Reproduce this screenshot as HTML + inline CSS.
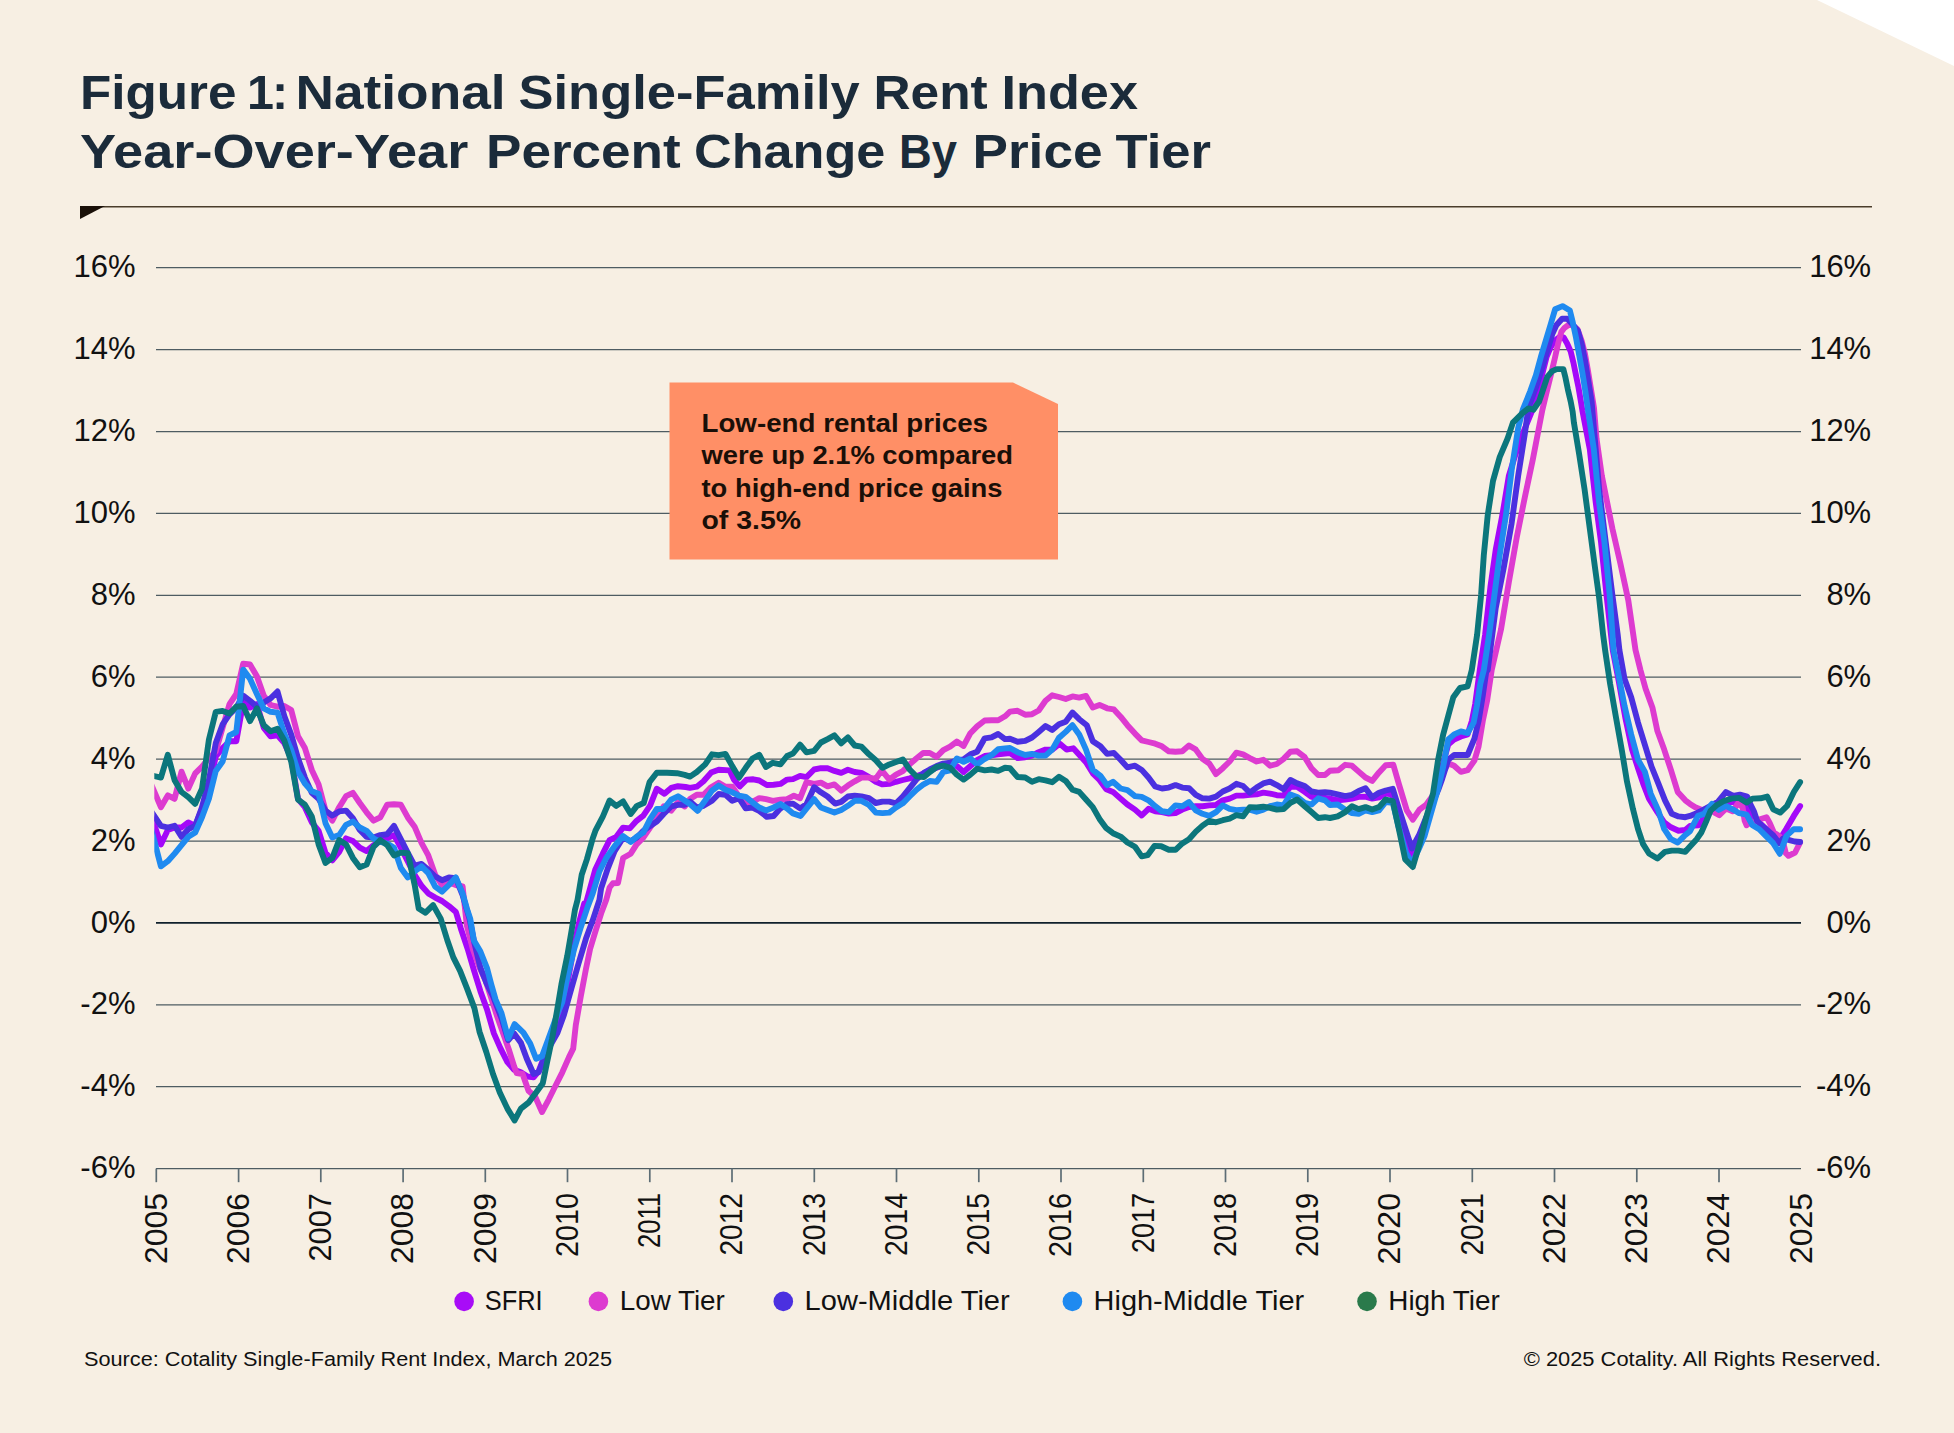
<!DOCTYPE html>
<html><head><meta charset="utf-8"><title>Figure 1</title>
<style>
html,body{margin:0;padding:0;background:#f7efe3;}
body{width:1954px;height:1433px;overflow:hidden;position:relative;font-family:"Liberation Sans",sans-serif;}
svg{position:absolute;left:0;top:0;}
text{font-family:"Liberation Sans",sans-serif;}
.t{font-weight:bold;font-size:48.5px;fill:#1b2b3a;}
.ax{font-size:31px;fill:#111;}
.lg{font-size:27px;fill:#111;}
.yr{font-size:31.4px;fill:#111;}
.ft{font-size:20.5px;fill:#111;}
.cb{font-weight:bold;font-size:26.3px;fill:#1a0f08;}
.ln{fill:none;stroke-width:5.9;stroke-linejoin:round;stroke-linecap:round;}
</style></head><body>
<svg width="1954" height="1433" viewBox="0 0 1954 1433">
<rect x="0" y="0" width="1954" height="1433" fill="#f7efe3"/>
<polygon points="1817,0 1954,0 1954,66" fill="#ffffff"/>
<text class="t" x="80" y="109" textLength="156.4" lengthAdjust="spacingAndGlyphs">Figure</text>
<text class="t" y="109"><tspan x="247">1</tspan><tspan x="272">:</tspan></text>
<text class="t" x="295.5" y="109" textLength="210.1" lengthAdjust="spacingAndGlyphs">National</text>
<text class="t" x="518.5" y="109" textLength="341.3" lengthAdjust="spacingAndGlyphs">Single-Family</text>
<text class="t" x="873.5" y="109" textLength="114.2" lengthAdjust="spacingAndGlyphs">Rent</text>
<text class="t" x="1001.5" y="109" textLength="136.5" lengthAdjust="spacingAndGlyphs">Index</text>
<text class="t" x="80" y="168" textLength="388.3" lengthAdjust="spacingAndGlyphs">Year-Over-Year</text>
<text class="t" x="486" y="168" textLength="194.7" lengthAdjust="spacingAndGlyphs">Percent</text>
<text class="t" x="694" y="168" textLength="191.4" lengthAdjust="spacingAndGlyphs">Change</text>
<text class="t" x="899" y="168" textLength="58.0" lengthAdjust="spacingAndGlyphs">By</text>
<text class="t" x="972.5" y="168" textLength="130.0" lengthAdjust="spacingAndGlyphs">Price</text>
<text class="t" x="1115.5" y="168" textLength="95.5" lengthAdjust="spacingAndGlyphs">Tier</text>
<line x1="80" y1="206.7" x2="1872" y2="206.7" stroke="#4a3d2b" stroke-width="1.5"/>
<polygon points="80,206 105,206 80,219" fill="#1a1008"/>

<line x1="156" y1="267.7" x2="1801" y2="267.7" stroke="#4e5c62" stroke-width="1.25"/>
<text class="ax" x="135.5" y="277.3" text-anchor="end">16%</text>
<text class="ax" x="1871.2" y="277.3" text-anchor="end">16%</text>
<line x1="156" y1="349.6" x2="1801" y2="349.6" stroke="#4e5c62" stroke-width="1.25"/>
<text class="ax" x="135.5" y="359.2" text-anchor="end">14%</text>
<text class="ax" x="1871.2" y="359.2" text-anchor="end">14%</text>
<line x1="156" y1="431.5" x2="1801" y2="431.5" stroke="#4e5c62" stroke-width="1.25"/>
<text class="ax" x="135.5" y="441.1" text-anchor="end">12%</text>
<text class="ax" x="1871.2" y="441.1" text-anchor="end">12%</text>
<line x1="156" y1="513.4" x2="1801" y2="513.4" stroke="#4e5c62" stroke-width="1.25"/>
<text class="ax" x="135.5" y="523.0" text-anchor="end">10%</text>
<text class="ax" x="1871.2" y="523.0" text-anchor="end">10%</text>
<line x1="156" y1="595.3" x2="1801" y2="595.3" stroke="#4e5c62" stroke-width="1.25"/>
<text class="ax" x="135.5" y="604.9" text-anchor="end">8%</text>
<text class="ax" x="1871.2" y="604.9" text-anchor="end">8%</text>
<line x1="156" y1="677.2" x2="1801" y2="677.2" stroke="#4e5c62" stroke-width="1.25"/>
<text class="ax" x="135.5" y="686.8" text-anchor="end">6%</text>
<text class="ax" x="1871.2" y="686.8" text-anchor="end">6%</text>
<line x1="156" y1="759.1" x2="1801" y2="759.1" stroke="#4e5c62" stroke-width="1.25"/>
<text class="ax" x="135.5" y="768.7" text-anchor="end">4%</text>
<text class="ax" x="1871.2" y="768.7" text-anchor="end">4%</text>
<line x1="156" y1="841.0" x2="1801" y2="841.0" stroke="#4e5c62" stroke-width="1.25"/>
<text class="ax" x="135.5" y="850.6" text-anchor="end">2%</text>
<text class="ax" x="1871.2" y="850.6" text-anchor="end">2%</text>
<line x1="156" y1="922.9" x2="1801" y2="922.9" stroke="#10202c" stroke-width="1.8"/>
<text class="ax" x="135.5" y="932.5" text-anchor="end">0%</text>
<text class="ax" x="1871.2" y="932.5" text-anchor="end">0%</text>
<line x1="156" y1="1004.8" x2="1801" y2="1004.8" stroke="#4e5c62" stroke-width="1.25"/>
<text class="ax" x="135.5" y="1014.4" text-anchor="end">-2%</text>
<text class="ax" x="1871.2" y="1014.4" text-anchor="end">-2%</text>
<line x1="156" y1="1086.7" x2="1801" y2="1086.7" stroke="#4e5c62" stroke-width="1.25"/>
<text class="ax" x="135.5" y="1096.3" text-anchor="end">-4%</text>
<text class="ax" x="1871.2" y="1096.3" text-anchor="end">-4%</text>
<line x1="156" y1="1168.6" x2="1801" y2="1168.6" stroke="#4e5c62" stroke-width="1.25"/>
<text class="ax" x="135.5" y="1178.2" text-anchor="end">-6%</text>
<text class="ax" x="1871.2" y="1178.2" text-anchor="end">-6%</text>
<line x1="156.3" y1="1168.6" x2="156.3" y2="1182.2" stroke="#5d6d75" stroke-width="1.7"/>
<text class="yr" transform="translate(166.5,1193) rotate(-90)" text-anchor="end" textLength="71" lengthAdjust="spacingAndGlyphs">2005</text>
<line x1="238.6" y1="1168.6" x2="238.6" y2="1182.2" stroke="#5d6d75" stroke-width="1.7"/>
<text class="yr" transform="translate(248.8,1193) rotate(-90)" text-anchor="end" textLength="71" lengthAdjust="spacingAndGlyphs">2006</text>
<line x1="320.8" y1="1168.6" x2="320.8" y2="1182.2" stroke="#5d6d75" stroke-width="1.7"/>
<text class="yr" transform="translate(331.0,1193) rotate(-90)" text-anchor="end" textLength="68.5" lengthAdjust="spacingAndGlyphs">2007</text>
<line x1="403.1" y1="1168.6" x2="403.1" y2="1182.2" stroke="#5d6d75" stroke-width="1.7"/>
<text class="yr" transform="translate(413.2,1193) rotate(-90)" text-anchor="end" textLength="71" lengthAdjust="spacingAndGlyphs">2008</text>
<line x1="485.3" y1="1168.6" x2="485.3" y2="1182.2" stroke="#5d6d75" stroke-width="1.7"/>
<text class="yr" transform="translate(495.5,1193) rotate(-90)" text-anchor="end" textLength="71" lengthAdjust="spacingAndGlyphs">2009</text>
<line x1="567.5" y1="1168.6" x2="567.5" y2="1182.2" stroke="#5d6d75" stroke-width="1.7"/>
<text class="yr" transform="translate(577.8,1193) rotate(-90)" text-anchor="end" textLength="64" lengthAdjust="spacingAndGlyphs">2010</text>
<line x1="649.8" y1="1168.6" x2="649.8" y2="1182.2" stroke="#5d6d75" stroke-width="1.7"/>
<text class="yr" transform="translate(660.0,1193) rotate(-90)" text-anchor="end" textLength="55" lengthAdjust="spacingAndGlyphs">2011</text>
<line x1="732.0" y1="1168.6" x2="732.0" y2="1182.2" stroke="#5d6d75" stroke-width="1.7"/>
<text class="yr" transform="translate(742.2,1193) rotate(-90)" text-anchor="end" textLength="62.5" lengthAdjust="spacingAndGlyphs">2012</text>
<line x1="814.3" y1="1168.6" x2="814.3" y2="1182.2" stroke="#5d6d75" stroke-width="1.7"/>
<text class="yr" transform="translate(824.5,1193) rotate(-90)" text-anchor="end" textLength="63" lengthAdjust="spacingAndGlyphs">2013</text>
<line x1="896.5" y1="1168.6" x2="896.5" y2="1182.2" stroke="#5d6d75" stroke-width="1.7"/>
<text class="yr" transform="translate(906.8,1193) rotate(-90)" text-anchor="end" textLength="63" lengthAdjust="spacingAndGlyphs">2014</text>
<line x1="978.8" y1="1168.6" x2="978.8" y2="1182.2" stroke="#5d6d75" stroke-width="1.7"/>
<text class="yr" transform="translate(989.0,1193) rotate(-90)" text-anchor="end" textLength="62.5" lengthAdjust="spacingAndGlyphs">2015</text>
<line x1="1061.0" y1="1168.6" x2="1061.0" y2="1182.2" stroke="#5d6d75" stroke-width="1.7"/>
<text class="yr" transform="translate(1071.2,1193) rotate(-90)" text-anchor="end" textLength="64" lengthAdjust="spacingAndGlyphs">2016</text>
<line x1="1143.3" y1="1168.6" x2="1143.3" y2="1182.2" stroke="#5d6d75" stroke-width="1.7"/>
<text class="yr" transform="translate(1153.5,1193) rotate(-90)" text-anchor="end" textLength="60" lengthAdjust="spacingAndGlyphs">2017</text>
<line x1="1225.5" y1="1168.6" x2="1225.5" y2="1182.2" stroke="#5d6d75" stroke-width="1.7"/>
<text class="yr" transform="translate(1235.8,1193) rotate(-90)" text-anchor="end" textLength="64" lengthAdjust="spacingAndGlyphs">2018</text>
<line x1="1307.8" y1="1168.6" x2="1307.8" y2="1182.2" stroke="#5d6d75" stroke-width="1.7"/>
<text class="yr" transform="translate(1318.0,1193) rotate(-90)" text-anchor="end" textLength="64" lengthAdjust="spacingAndGlyphs">2019</text>
<line x1="1390.0" y1="1168.6" x2="1390.0" y2="1182.2" stroke="#5d6d75" stroke-width="1.7"/>
<text class="yr" transform="translate(1400.2,1193) rotate(-90)" text-anchor="end" textLength="71.5" lengthAdjust="spacingAndGlyphs">2020</text>
<line x1="1472.3" y1="1168.6" x2="1472.3" y2="1182.2" stroke="#5d6d75" stroke-width="1.7"/>
<text class="yr" transform="translate(1482.5,1193) rotate(-90)" text-anchor="end" textLength="62.5" lengthAdjust="spacingAndGlyphs">2021</text>
<line x1="1554.5" y1="1168.6" x2="1554.5" y2="1182.2" stroke="#5d6d75" stroke-width="1.7"/>
<text class="yr" transform="translate(1564.8,1193) rotate(-90)" text-anchor="end" textLength="71" lengthAdjust="spacingAndGlyphs">2022</text>
<line x1="1636.8" y1="1168.6" x2="1636.8" y2="1182.2" stroke="#5d6d75" stroke-width="1.7"/>
<text class="yr" transform="translate(1647.0,1193) rotate(-90)" text-anchor="end" textLength="71" lengthAdjust="spacingAndGlyphs">2023</text>
<line x1="1719.0" y1="1168.6" x2="1719.0" y2="1182.2" stroke="#5d6d75" stroke-width="1.7"/>
<text class="yr" transform="translate(1729.2,1193) rotate(-90)" text-anchor="end" textLength="71" lengthAdjust="spacingAndGlyphs">2024</text>
<text class="yr" transform="translate(1811.5,1193) rotate(-90)" text-anchor="end" textLength="71" lengthAdjust="spacingAndGlyphs">2025</text>
<clipPath id="cp"><rect x="154.3" y="250" width="1670" height="930"/></clipPath><g clip-path="url(#cp)">
<polyline class="ln" stroke="#a408f9" points="150.1,812.3 154.1,824.1 160.9,844.4 167.8,830.0 174.6,827.5 181.5,827.5 188.3,822.4 195.2,825.8 202.0,808.9 208.9,786.9 215.8,756.5 222.6,748.1 229.5,741.3 236.3,741.3 243.2,702.5 250.0,707.6 256.9,704.2 263.8,727.8 270.6,736.3 277.5,735.4 284.3,743.0 291.2,758.2 298.0,798.8 304.9,807.2 311.8,822.4 318.6,830.8 325.5,852.8 332.3,860.4 339.2,852.0 346.0,838.4 352.9,841.0 359.8,847.7 366.6,851.1 373.5,845.2 380.3,841.0 387.2,838.4 394.0,835.2 400.9,847.8 407.8,861.3 414.6,874.8 421.5,885.8 428.3,893.4 435.2,897.6 442.0,901.0 448.9,906.1 455.9,912.0 460.9,928.7 467.7,949.0 473.6,969.2 480.4,991.2 487.1,1009.8 493.9,1033.4 500.6,1048.6 507.4,1062.1 514.1,1069.7 520.9,1072.3 527.6,1076.5 533.6,1077.3 538.6,1071.4 542.8,1060.4 548.8,1043.6 554.7,1026.7 559.7,1013.2 564.0,1002.0 569.9,969.4 574.1,945.8 579.2,922.1 584.2,903.5 585.9,903.6 591.0,885.0 595.2,869.8 602.8,853.7 609.6,840.2 616.3,836.8 623.1,827.6 629.8,828.4 636.6,820.8 643.3,815.7 650.1,805.6 656.8,788.7 664.4,793.8 671.2,787.9 678.0,786.2 685.6,787.0 690.0,787.8 696.8,786.7 703.5,781.3 711.1,772.6 718.7,769.8 729.7,770.4 733.9,779.6 739.8,786.4 746.6,779.6 753.3,779.3 759.2,780.5 766.8,785.0 773.6,784.7 780.4,783.9 787.1,779.6 793.0,779.1 800.1,775.9 806.5,777.1 814.1,769.5 820.9,768.2 827.6,768.3 834.4,770.9 841.2,772.9 847.9,769.8 854.7,772.0 861.4,772.9 869.0,777.1 875.8,781.8 882.5,784.4 889.3,783.9 896.0,781.8 902.8,780.0 909.6,778.3 916.3,776.3 923.1,773.7 929.8,770.4 936.6,767.8 943.3,765.3 950.1,764.4 956.8,766.1 963.6,772.0 970.4,766.1 977.1,760.2 984.7,756.0 991.5,755.2 998.2,754.3 1005.0,753.5 1010.0,753.0 1017.6,758.1 1025.2,757.2 1032.0,755.6 1038.7,752.2 1045.5,749.6 1052.2,749.6 1059.8,743.7 1066.6,749.6 1073.3,748.3 1079.2,754.7 1086.0,762.3 1092.8,773.3 1099.5,780.0 1106.3,789.3 1113.0,791.9 1120.6,798.6 1127.4,804.5 1135.0,809.6 1141.7,815.5 1148.5,808.8 1155.2,811.3 1162.0,812.1 1168.8,813.5 1175.5,813.0 1182.3,809.6 1189.0,807.1 1195.8,806.2 1202.5,806.2 1209.3,805.4 1216.0,805.0 1222.8,800.3 1229.6,798.6 1236.3,795.6 1243.1,795.6 1249.8,794.9 1256.6,794.4 1263.3,792.7 1270.1,793.6 1276.8,795.2 1283.6,795.6 1290.4,786.8 1297.1,786.8 1304.7,791.9 1311.5,796.9 1318.2,797.8 1325.0,797.8 1330.0,798.6 1337.6,800.3 1345.2,799.5 1352.0,798.6 1358.7,796.9 1365.5,796.6 1372.2,798.6 1379.0,797.3 1385.7,793.6 1391.6,794.4 1399.2,818.9 1406.0,840.8 1411.6,855.2 1418.7,840.8 1425.4,822.3 1432.2,802.0 1438.9,780.0 1444.0,759.8 1448.2,744.6 1454.1,739.5 1460.9,736.5 1467.6,734.4 1471.9,720.9 1475.2,704.0 1479.8,670.0 1485.1,634.7 1490.4,587.0 1495.7,549.9 1502.3,515.4 1508.9,475.6 1519.6,441.2 1532.6,409.7 1537.5,393.3 1542.4,373.6 1546.5,357.2 1550.6,347.4 1554.7,340.9 1560.4,336.4 1563.7,337.6 1567.0,343.3 1570.7,351.5 1573.5,363.0 1576.0,375.3 1578.5,387.5 1580.9,401.5 1582.5,411.3 1589.8,449.1 1595.7,502.1 1601.0,541.9 1606.5,595.0 1612.7,650.0 1618.6,680.4 1625.3,717.6 1632.1,749.6 1638.0,768.2 1643.1,783.4 1649.0,798.6 1657.4,812.1 1664.2,822.3 1670.9,827.3 1678.5,830.7 1685.3,829.9 1690.0,825.9 1698.6,825.2 1703.3,818.6 1710.0,810.6 1717.9,805.9 1725.9,802.6 1733.2,801.9 1739.9,803.3 1747.2,807.9 1753.2,816.6 1759.9,823.2 1766.5,829.2 1773.2,835.9 1779.8,839.2 1786.5,828.5 1793.8,815.9 1800.1,806.1"/>
<polyline class="ln" stroke="#dd3bd0" points="150.1,781.8 154.1,791.2 160.9,807.2 167.8,795.4 174.6,798.8 181.5,771.7 188.3,788.6 195.2,773.4 202.0,766.7 208.9,758.2 215.8,751.5 222.6,727.8 229.5,704.2 236.3,694.0 243.2,663.6 250.0,664.5 256.9,676.3 263.8,695.7 270.6,705.0 277.5,706.7 284.3,705.9 291.2,710.1 298.0,736.3 304.9,748.1 311.8,770.0 318.6,784.4 325.5,810.6 332.3,820.7 339.2,807.2 346.0,796.2 352.9,792.8 359.8,803.0 366.6,812.3 373.5,820.7 380.3,817.3 387.2,804.7 394.0,804.2 400.9,804.8 407.8,817.4 414.6,826.7 421.5,842.8 428.3,855.4 435.2,874.8 442.0,885.0 448.9,882.4 455.8,885.0 462.6,886.3 466.8,925.3 472.8,949.0 479.5,967.6 485.4,980.1 491.3,998.0 497.2,1016.5 503.2,1033.4 509.1,1050.3 514.1,1066.4 516.7,1073.1 522.6,1074.0 528.5,1090.8 535.2,1096.8 542.0,1112.0 548.8,1099.3 555.5,1085.8 562.3,1072.3 569.0,1057.1 573.2,1048.6 575.8,1025.0 580.8,996.3 585.9,969.2 590.1,949.0 595.2,932.1 601.1,913.5 606.2,900.0 609.6,887.5 612.9,883.3 618.0,883.0 623.1,858.0 630.7,853.7 636.6,844.4 643.3,837.7 650.1,827.6 656.8,818.3 663.6,806.4 671.2,810.7 678.0,802.2 684.7,806.4 690.0,799.1 696.8,794.8 703.5,794.8 711.1,787.2 718.7,782.7 725.5,786.7 732.2,786.7 739.0,796.5 745.7,803.3 754.2,800.8 759.2,798.2 766.0,799.1 772.8,800.8 780.4,799.6 787.1,799.1 793.9,795.7 800.1,798.2 806.5,782.2 814.1,783.9 820.9,782.7 827.6,786.4 834.4,784.4 841.2,790.6 847.9,785.6 854.7,781.3 861.4,777.6 869.0,777.6 875.8,778.8 881.7,770.4 889.3,779.6 896.0,774.6 902.8,771.2 909.6,764.4 916.3,758.5 923.1,753.0 929.8,753.0 936.6,756.8 943.3,750.1 950.1,746.7 956.8,741.6 963.6,745.9 970.4,733.2 977.1,726.4 984.7,720.5 991.5,720.2 998.2,720.2 1005.0,716.3 1010.0,711.6 1017.6,710.8 1025.2,714.7 1032.0,714.2 1038.7,710.5 1045.5,700.7 1052.2,695.3 1059.0,697.0 1065.7,699.0 1072.5,696.4 1079.2,697.6 1086.0,695.9 1092.8,707.4 1099.5,704.9 1107.1,708.3 1113.9,709.4 1120.6,716.7 1127.4,725.2 1135.0,733.6 1141.7,740.4 1148.5,742.0 1155.2,743.7 1162.0,746.3 1168.8,751.3 1175.5,751.7 1182.3,751.3 1189.0,745.4 1195.8,749.6 1202.5,758.9 1209.3,763.5 1216.0,774.1 1222.8,768.2 1229.6,761.5 1236.3,752.7 1243.1,754.4 1249.8,758.1 1256.6,761.5 1263.3,759.8 1270.1,765.7 1276.8,764.0 1283.6,758.9 1290.4,751.8 1297.1,751.3 1304.7,757.2 1311.5,768.2 1318.2,775.0 1325.0,775.0 1330.0,770.8 1338.4,770.2 1345.2,764.8 1352.0,765.7 1358.7,771.6 1365.5,777.5 1372.2,780.9 1379.0,772.4 1385.7,765.2 1393.3,764.8 1399.2,785.1 1406.8,810.4 1412.8,819.7 1419.5,809.6 1426.3,804.5 1433.0,795.2 1441.5,775.0 1448.2,763.2 1454.1,765.7 1460.9,771.9 1467.6,770.2 1474.4,760.6 1478.6,746.3 1482.8,720.9 1487.1,700.7 1491.7,670.0 1501.0,629.4 1508.9,581.7 1516.9,536.6 1524.9,496.8 1532.8,459.7 1539.4,425.2 1542.4,409.7 1547.3,389.2 1551.4,372.8 1554.7,358.9 1558.0,344.1 1561.3,331.9 1564.5,327.8 1569.1,324.5 1572.7,325.3 1577.6,329.4 1581.7,340.9 1585.0,354.0 1587.9,370.3 1590.7,387.5 1594.0,408.0 1596.5,438.5 1601.8,475.6 1607.1,502.1 1612.4,528.7 1620.3,563.1 1628.3,600.3 1635.5,650.0 1640.5,670.3 1645.6,688.8 1652.4,707.4 1657.4,731.1 1664.2,749.6 1670.9,769.9 1677.7,791.9 1685.3,800.3 1690.0,803.9 1695.3,807.3 1702.0,809.9 1710.0,809.3 1714.6,812.6 1719.3,815.2 1725.9,808.6 1732.6,811.3 1737.9,803.3 1742.6,807.3 1744.6,820.6 1746.6,825.2 1749.9,822.6 1754.5,821.2 1759.9,819.2 1766.5,817.2 1769.8,823.2 1773.8,832.5 1779.2,835.9 1783.1,841.9 1785.8,853.2 1788.5,855.8 1795.1,852.5 1799.1,844.5 1800.1,842.3"/>
<polyline class="ln" stroke="#4b30e0" points="150.1,809.7 154.1,815.6 160.9,825.8 167.8,827.5 174.6,825.8 181.5,836.8 188.3,829.2 195.2,825.8 202.0,807.2 208.9,780.2 215.8,743.0 222.6,724.4 229.5,714.3 236.3,707.6 243.2,695.7 250.0,700.8 256.9,706.7 263.8,702.5 270.6,698.3 277.5,691.5 284.3,716.0 291.2,734.6 298.0,758.2 304.9,777.6 311.8,792.8 318.6,798.8 325.5,810.6 332.3,815.6 339.2,811.4 346.0,810.6 352.9,818.2 359.8,830.0 366.6,836.8 373.5,837.6 380.3,835.1 387.2,834.2 394.0,825.9 400.9,839.4 407.8,852.9 414.6,865.6 421.5,863.9 428.3,869.8 435.2,876.5 442.0,880.2 448.9,877.4 455.8,878.2 462.6,895.1 469.5,918.6 474.4,943.1 480.4,967.6 486.3,982.8 493.0,996.3 501.5,1018.2 508.2,1040.2 514.1,1033.4 520.9,1042.7 526.8,1058.8 533.6,1074.0 538.6,1072.3 542.8,1062.1 550.4,1045.2 557.2,1033.4 564.0,1014.8 571.6,987.8 578.3,964.2 585.9,938.8 592.7,920.3 599.4,900.0 601.1,888.4 607.9,868.1 614.6,851.2 623.1,837.7 630.7,841.1 636.6,837.7 643.3,830.9 650.1,825.9 656.8,821.6 663.6,814.0 671.2,806.4 678.0,804.8 684.7,804.8 690.0,801.6 696.8,807.5 703.5,805.8 712.0,800.8 718.7,794.0 725.5,794.8 732.2,800.8 739.0,798.2 745.7,808.4 752.5,807.5 759.2,810.9 766.8,816.8 773.6,816.0 780.4,808.4 787.1,804.1 793.0,803.6 800.1,808.4 806.5,804.1 814.1,787.2 820.9,792.3 827.6,796.5 835.2,803.6 841.2,801.9 847.9,796.5 854.7,795.7 861.4,796.5 869.0,798.2 875.8,803.0 882.5,801.6 889.3,801.6 896.0,803.3 902.8,796.5 909.6,788.1 916.3,779.6 923.9,772.9 929.8,769.5 936.6,766.1 943.3,763.6 950.1,762.8 956.8,760.2 963.6,759.4 970.4,754.3 977.1,751.8 984.7,738.3 991.5,737.4 998.2,734.0 1005.0,739.1 1010.0,738.7 1017.6,741.7 1025.2,740.9 1032.0,737.5 1038.7,731.9 1045.5,726.0 1052.2,729.9 1059.0,724.3 1065.7,721.8 1072.5,712.5 1079.2,719.2 1086.8,725.2 1092.8,741.2 1100.4,746.3 1107.1,753.9 1113.9,753.0 1120.6,759.8 1127.4,767.4 1135.0,765.7 1141.7,769.9 1148.5,777.5 1155.2,786.5 1162.0,788.5 1168.8,787.6 1175.5,785.1 1182.3,787.6 1189.0,788.2 1195.8,794.9 1202.5,798.3 1209.3,798.6 1216.0,796.6 1222.8,791.5 1229.6,788.5 1236.3,783.8 1243.1,786.0 1249.8,792.7 1256.6,787.6 1263.3,783.4 1270.1,781.7 1276.8,785.1 1283.6,789.3 1290.4,780.0 1297.1,783.4 1304.7,786.0 1311.5,791.5 1318.2,792.7 1325.0,792.2 1330.0,792.7 1337.6,794.4 1345.2,796.1 1352.0,794.9 1358.7,791.0 1365.5,788.2 1372.2,797.3 1379.0,792.7 1385.7,790.5 1392.8,788.8 1399.2,809.6 1406.0,830.7 1411.9,848.4 1419.5,834.1 1426.3,817.2 1433.0,802.0 1438.1,790.2 1442.3,778.4 1448.2,759.8 1454.1,755.0 1460.9,755.0 1467.6,755.0 1474.4,738.7 1478.6,720.9 1482.8,695.6 1486.2,672.0 1487.7,670.0 1495.7,608.2 1503.6,568.4 1511.6,523.4 1518.2,475.6 1524.9,433.2 1528.5,407.2 1535.9,387.5 1542.4,367.1 1547.3,350.7 1552.2,334.3 1556.3,325.3 1562.1,318.8 1567.4,318.8 1571.9,323.7 1578.0,331.0 1581.7,344.1 1585.0,360.5 1588.3,381.0 1591.6,401.5 1599.1,488.9 1605.7,541.9 1612.4,595.0 1617.7,634.7 1619.4,650.0 1624.5,678.7 1631.2,697.3 1638.0,722.6 1644.8,744.6 1651.5,766.5 1658.3,783.4 1665.0,800.3 1671.8,813.8 1678.5,816.4 1685.3,817.2 1690.0,815.9 1696.7,813.2 1703.3,809.9 1710.6,805.9 1717.9,801.9 1725.9,792.0 1733.2,795.9 1739.9,794.6 1747.2,796.6 1749.9,803.3 1753.9,811.3 1757.2,821.2 1763.2,827.2 1768.5,831.2 1773.2,835.2 1779.2,843.2 1783.1,838.5 1788.5,839.9 1794.5,841.5 1800.1,842.0"/>
<polyline class="ln" stroke="#1f8af0" points="150.1,824.9 154.1,840.1 160.9,866.3 167.8,861.2 174.6,853.6 181.5,845.2 188.3,836.8 195.2,832.5 202.0,817.3 208.9,798.8 215.8,770.9 222.6,761.6 229.5,735.4 236.3,732.0 243.2,669.6 250.0,678.8 256.9,694.0 263.8,708.4 270.6,711.8 277.5,712.6 284.3,733.7 291.2,749.8 298.0,771.7 304.9,783.6 311.8,791.2 318.6,793.7 325.5,823.2 332.3,837.6 339.2,835.1 346.0,824.9 352.9,821.6 359.8,827.5 366.6,830.8 373.5,838.4 380.3,841.8 387.2,843.5 394.0,847.8 400.9,868.1 407.8,877.4 414.6,871.5 421.5,866.4 428.3,873.2 435.2,886.7 442.0,891.7 448.9,885.0 455.8,877.4 462.6,893.4 466.8,908.4 470.2,918.6 473.9,940.5 480.4,951.5 487.1,968.4 491.3,984.4 495.6,999.6 501.5,1013.2 508.2,1038.5 514.6,1024.1 523.4,1032.6 530.2,1043.6 536.1,1058.8 542.0,1056.2 547.9,1040.2 554.7,1021.6 559.7,1008.1 562.3,1002.0 567.3,977.9 574.1,949.1 580.8,927.2 587.6,906.9 592.7,893.4 599.4,871.5 606.2,858.0 614.6,846.1 623.1,836.0 630.7,841.9 636.6,836.8 643.3,832.6 650.1,819.1 656.8,809.0 663.6,809.0 671.2,799.7 678.0,796.3 684.7,800.5 690.0,804.1 697.6,810.9 704.4,801.6 712.0,790.6 718.7,785.6 725.5,789.8 732.2,792.3 739.0,795.7 745.7,796.9 752.5,802.4 759.2,807.5 766.0,810.4 773.6,807.5 780.4,804.1 787.1,808.4 793.0,813.4 800.6,816.0 807.4,807.5 814.1,799.1 820.9,807.5 827.6,810.0 834.4,812.6 841.2,810.0 847.9,805.8 854.7,800.8 861.4,800.8 869.0,805.0 875.8,812.6 882.5,813.1 889.3,812.6 896.0,807.5 902.8,803.3 909.6,796.5 916.3,789.8 923.1,784.7 929.8,781.0 936.6,781.8 943.3,772.0 950.1,770.4 956.8,758.5 963.6,761.9 970.4,758.5 977.1,764.4 983.9,759.4 991.5,755.2 998.2,749.2 1005.0,748.4 1010.0,748.0 1017.6,752.2 1025.2,755.0 1032.0,753.9 1038.7,755.6 1045.5,755.6 1052.2,749.6 1059.0,737.8 1065.7,731.9 1072.5,725.2 1079.2,734.4 1086.0,749.6 1092.8,769.9 1100.4,775.8 1107.1,785.1 1113.0,781.7 1120.6,788.5 1127.4,790.2 1135.0,796.1 1141.7,796.9 1148.5,800.3 1155.2,806.2 1162.0,811.3 1168.8,812.1 1175.5,805.4 1182.3,806.2 1189.0,802.0 1195.8,810.4 1202.5,813.8 1209.3,815.9 1216.0,812.1 1222.8,805.4 1229.6,808.8 1236.3,810.1 1243.1,809.6 1249.8,809.6 1256.6,811.8 1263.3,809.6 1270.1,806.2 1276.8,804.5 1283.6,805.4 1290.4,794.4 1297.1,796.9 1304.7,802.8 1311.5,804.5 1318.2,798.3 1325.0,800.3 1330.0,805.0 1337.6,804.5 1345.2,809.6 1352.0,813.0 1358.7,813.8 1365.5,810.4 1372.2,812.1 1379.0,810.4 1385.7,802.0 1392.8,802.8 1399.2,829.0 1406.0,852.7 1411.9,863.6 1418.7,849.3 1424.6,835.8 1431.3,812.1 1438.1,788.5 1443.2,766.5 1448.2,739.5 1454.1,734.4 1460.9,731.4 1467.6,733.1 1473.6,722.6 1476.9,705.7 1480.3,683.8 1483.8,670.0 1489.1,634.7 1494.4,595.0 1499.7,555.2 1506.3,512.8 1511.6,470.3 1518.2,427.9 1522.8,409.7 1530.1,391.6 1535.9,375.3 1540.8,357.2 1545.7,340.9 1550.6,324.5 1555.1,309.3 1562.5,306.1 1569.9,310.6 1572.7,322.0 1576.0,337.6 1579.3,355.6 1582.5,373.6 1585.4,391.6 1587.9,409.7 1593.8,449.1 1599.1,502.1 1604.4,541.9 1609.7,595.0 1613.5,650.0 1618.6,675.3 1624.5,705.7 1631.2,734.4 1638.0,759.8 1644.8,771.6 1650.7,793.6 1658.3,810.4 1664.2,829.0 1670.9,839.2 1677.7,842.5 1684.4,835.8 1690.0,831.2 1698.0,815.9 1704.0,813.9 1712.0,803.9 1718.6,809.9 1725.9,805.9 1732.6,809.3 1739.2,813.2 1746.6,814.6 1752.5,825.2 1759.2,829.2 1765.8,835.9 1773.2,843.2 1779.8,853.8 1786.5,835.9 1793.8,829.2 1800.1,829.2"/>
<polyline class="ln" stroke="#0b767c" points="150.1,775.0 154.1,776.0 160.9,777.6 167.8,754.8 174.6,780.2 181.5,792.0 188.3,797.1 195.2,803.8 202.0,788.6 208.9,739.6 215.8,711.8 222.6,710.9 229.5,713.5 236.3,706.7 243.2,705.9 250.0,721.1 256.9,708.4 263.8,725.3 270.6,731.2 277.5,728.7 284.3,740.5 291.2,761.6 298.0,799.6 304.9,804.7 311.8,816.5 318.6,844.4 325.5,862.9 332.3,857.9 339.2,840.1 346.0,844.4 352.9,857.9 359.8,867.2 366.6,864.6 373.5,846.9 380.3,840.1 387.2,845.2 394.0,855.4 400.9,852.6 407.8,853.2 414.7,885.0 418.7,908.4 425.5,912.7 433.1,905.1 440.7,918.6 447.4,940.5 453.3,957.4 460.1,970.9 466.8,987.8 474.4,1008.1 479.5,1031.7 486.3,1052.0 493.0,1074.0 499.8,1092.5 507.4,1108.6 514.6,1120.4 520.9,1108.6 528.5,1102.7 536.1,1092.5 542.8,1083.2 547.1,1062.1 552.1,1038.5 557.2,1009.8 561.4,984.4 567.3,955.7 571.6,930.4 574.9,910.1 577.5,900.0 581.7,874.8 586.8,859.6 592.7,838.5 595.7,830.1 602.8,816.6 609.6,800.5 616.3,805.9 623.1,801.4 630.7,814.0 636.9,805.9 643.7,803.1 649.6,782.0 656.8,772.7 667.0,772.7 677.1,773.2 684.7,774.9 690.0,776.6 696.8,772.0 705.2,764.4 712.0,754.3 718.7,755.2 725.5,754.0 732.2,766.1 739.0,777.6 745.7,767.8 752.5,758.5 759.2,754.8 766.0,767.0 772.8,762.8 780.4,764.4 787.1,756.0 793.0,753.5 800.1,744.7 806.5,752.3 814.1,750.9 820.9,742.5 827.6,739.1 834.4,735.4 841.2,743.3 847.9,737.4 854.7,745.5 861.4,746.7 869.0,754.3 875.8,760.2 882.5,767.8 889.3,764.4 896.0,761.9 902.8,759.4 909.6,769.5 916.3,776.3 923.9,777.1 929.8,772.0 936.6,767.0 943.3,765.6 950.1,767.8 956.8,774.6 963.6,779.6 970.4,774.6 977.1,768.7 984.7,770.4 991.5,769.5 998.2,770.9 1005.0,767.8 1010.0,768.2 1017.6,777.0 1025.2,777.5 1032.0,781.7 1038.7,779.2 1045.5,780.4 1052.2,782.2 1059.0,776.7 1065.7,780.9 1072.5,789.8 1079.2,791.9 1086.0,799.5 1092.8,807.1 1099.5,818.9 1106.3,828.2 1113.0,833.2 1120.6,836.6 1127.4,842.5 1135.0,846.8 1141.7,856.4 1147.6,855.2 1154.4,845.9 1161.2,846.3 1168.8,849.8 1175.5,849.8 1182.3,843.4 1189.0,839.2 1195.8,831.6 1202.5,825.6 1209.3,820.9 1216.0,822.3 1222.8,820.2 1229.6,818.6 1236.3,815.2 1243.1,816.4 1249.8,807.1 1256.6,807.4 1263.3,806.7 1270.1,807.9 1276.8,809.6 1283.6,809.1 1290.4,802.8 1297.1,799.5 1304.7,806.2 1311.5,812.1 1318.2,818.0 1325.0,817.2 1330.0,818.0 1337.6,816.4 1345.2,812.1 1352.0,806.2 1358.7,809.1 1365.5,807.1 1372.2,809.6 1379.0,807.1 1385.7,799.5 1392.8,801.2 1399.2,830.7 1405.2,859.4 1412.8,867.0 1419.5,844.2 1426.3,817.2 1433.0,793.6 1438.1,759.8 1443.2,734.4 1448.2,715.9 1453.3,697.3 1460.0,688.0 1467.6,686.3 1471.8,670.0 1477.1,634.7 1481.1,595.0 1483.8,555.2 1487.7,515.4 1493.0,480.9 1499.7,457.1 1507.6,438.5 1512.9,422.6 1522.2,413.3 1528.5,408.4 1533.4,409.7 1539.1,401.5 1543.2,389.2 1547.3,376.9 1552.2,371.2 1556.7,369.1 1563.3,369.1 1565.3,376.9 1567.8,389.2 1570.7,401.5 1572.7,412.0 1573.9,422.6 1579.2,454.4 1584.5,488.9 1589.8,528.7 1595.1,568.4 1599.1,597.6 1603.1,634.7 1605.1,650.0 1610.1,683.8 1616.0,717.6 1622.0,751.3 1627.0,781.7 1632.9,808.8 1638.0,829.0 1643.1,844.2 1649.0,853.5 1657.4,858.6 1665.0,851.8 1671.8,850.6 1678.5,850.6 1685.3,851.8 1690.0,846.5 1696.7,839.2 1701.3,832.5 1706.0,821.9 1710.6,810.6 1716.6,805.3 1723.3,801.3 1731.3,798.6 1739.2,797.9 1746.6,802.6 1752.5,798.6 1760.5,798.3 1767.2,796.6 1773.2,809.3 1780.2,812.6 1787.1,805.9 1793.8,792.0 1800.1,782.1"/>
</g>
<polygon points="669.5,382.5 1013,382.5 1058,404 1058,559.5 669.5,559.5" fill="#ff8f66"/>
<text class="cb" x="701.5" y="431.9" textLength="286.5" lengthAdjust="spacingAndGlyphs">Low-end rental prices</text>
<text class="cb" x="701.5" y="464.3" textLength="311.5" lengthAdjust="spacingAndGlyphs">were up 2.1% compared</text>
<text class="cb" x="701.5" y="496.7" textLength="301" lengthAdjust="spacingAndGlyphs">to high-end price gains</text>
<text class="cb" x="701.5" y="529.1" textLength="99.5" lengthAdjust="spacingAndGlyphs">of 3.5%</text>

<circle cx="464.1" cy="1301.4" r="9.8" fill="#a80cf7"/>
<text class="lg" x="484.7" y="1310.3" textLength="58.0" lengthAdjust="spacingAndGlyphs">SFRI</text>
<circle cx="598.4" cy="1301.4" r="9.8" fill="#dd3bd0"/>
<text class="lg" x="619.8" y="1310.3" textLength="105.0" lengthAdjust="spacingAndGlyphs">Low Tier</text>
<circle cx="783.3" cy="1301.4" r="9.8" fill="#4b30e0"/>
<text class="lg" x="804.6" y="1310.3" textLength="205.1" lengthAdjust="spacingAndGlyphs">Low-Middle Tier</text>
<circle cx="1072.4" cy="1301.4" r="9.8" fill="#1f8af0"/>
<text class="lg" x="1093.6" y="1310.3" textLength="210.6" lengthAdjust="spacingAndGlyphs">High-Middle Tier</text>
<circle cx="1367" cy="1301.4" r="9.8" fill="#2a7a4b"/>
<text class="lg" x="1388.3" y="1310.3" textLength="111.5" lengthAdjust="spacingAndGlyphs">High Tier</text>
<text class="ft" x="84" y="1366" textLength="528" lengthAdjust="spacingAndGlyphs">Source: Cotality Single-Family Rent Index, March 2025</text>
<text class="ft" x="1523.7" y="1366" textLength="357.3" lengthAdjust="spacingAndGlyphs">© 2025 Cotality. All Rights Reserved.</text>
</svg></body></html>
